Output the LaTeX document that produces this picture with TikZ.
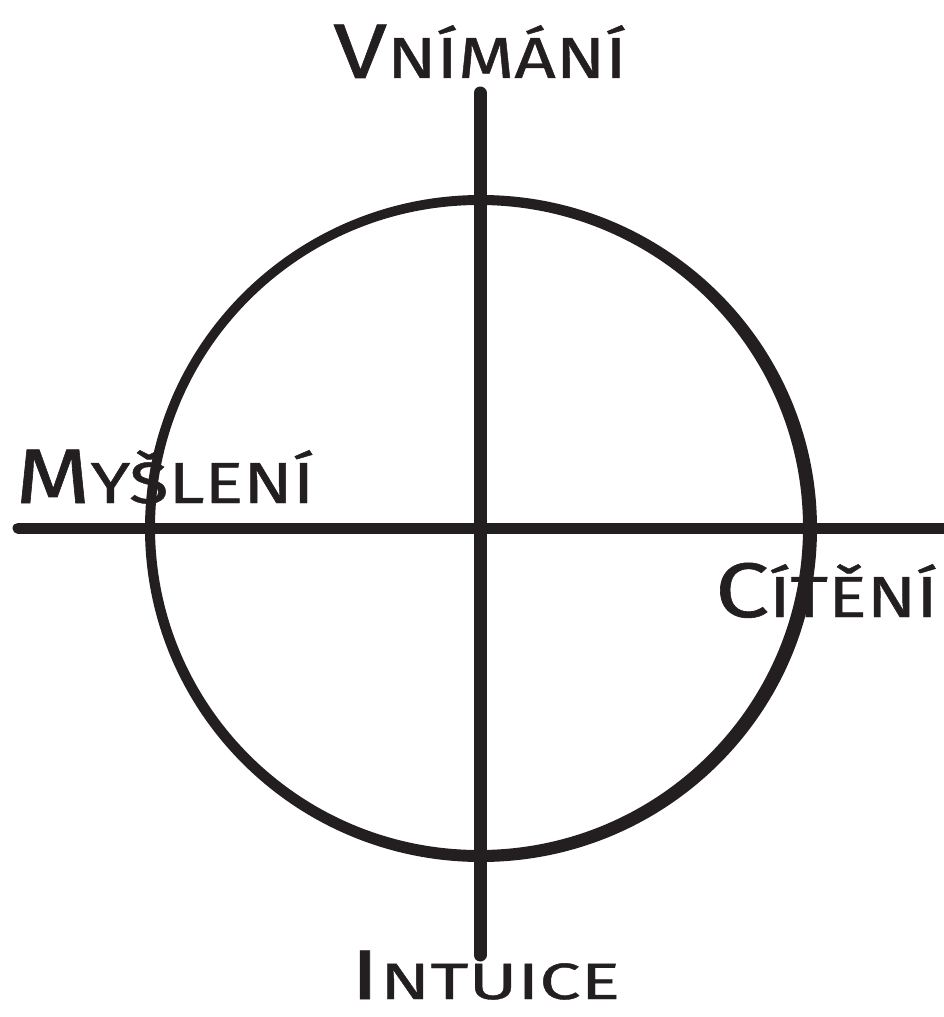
\documentclass[tikz,border=0pt]{standalone}
\usepackage{fontspec}
\newfontfamily\brushfont[FakeStretch=1.25, FakeBold=0.8]{Fira Sans}
\newfontfamily\widebrushfont[FakeStretch=1.45, FakeBold=0.8]{Fira Sans}
\definecolor{ink}{RGB}{35, 31, 32}
\usetikzlibrary{positioning}
\newcommand{\capword}[4][44]{{\fontsize{#1}{#1}\selectfont #3}{\fontsize{#2}{#2}\selectfont #4}}

\begin{document}
\begin{tikzpicture}[x=0.02cm, y=-0.02cm,
    axis/.style={draw=ink, line cap=round},
    fnlabel/.style={inner sep=0pt, text=ink, font=\brushfont}]
  \useasboundingbox (0,0) rectangle (943,1017);
  % axes
  \coordinate (top) at (480,93);
  \coordinate (bottom) at (480,955);
  \coordinate (left) at (18,528);
  \coordinate (right) at (948,528);
  \draw[axis, line width=0.26cm] (top) -- (bottom);
  \draw[axis, line width=0.22cm] (left) -- (right);
  % circle, thicker on the right
  \fill[ink, even odd rule]
    (481,528.5) ellipse [x radius=336, y radius=333.5]
    (479,527.5) ellipse [x radius=324, y radius=322.5];
  % functions
  \node[fnlabel, anchor=base] (vnimani) at (480,78) {\capword{33}{V}{NÍMÁNÍ}};
  \node[fnlabel, anchor=base west] (mysleni) at (15,503) {\capword{33}{M}{YŠLENÍ}};
  \node[fnlabel, anchor=base east] (citeni) at (938,617) {\capword{33}{C}{ÍTĚNÍ}};
  \node[fnlabel, font=\widebrushfont, anchor=base] (intuice) at (485,999)
    {\capword[40]{29}{I}{NTUICE}};
\end{tikzpicture}
\end{document}
